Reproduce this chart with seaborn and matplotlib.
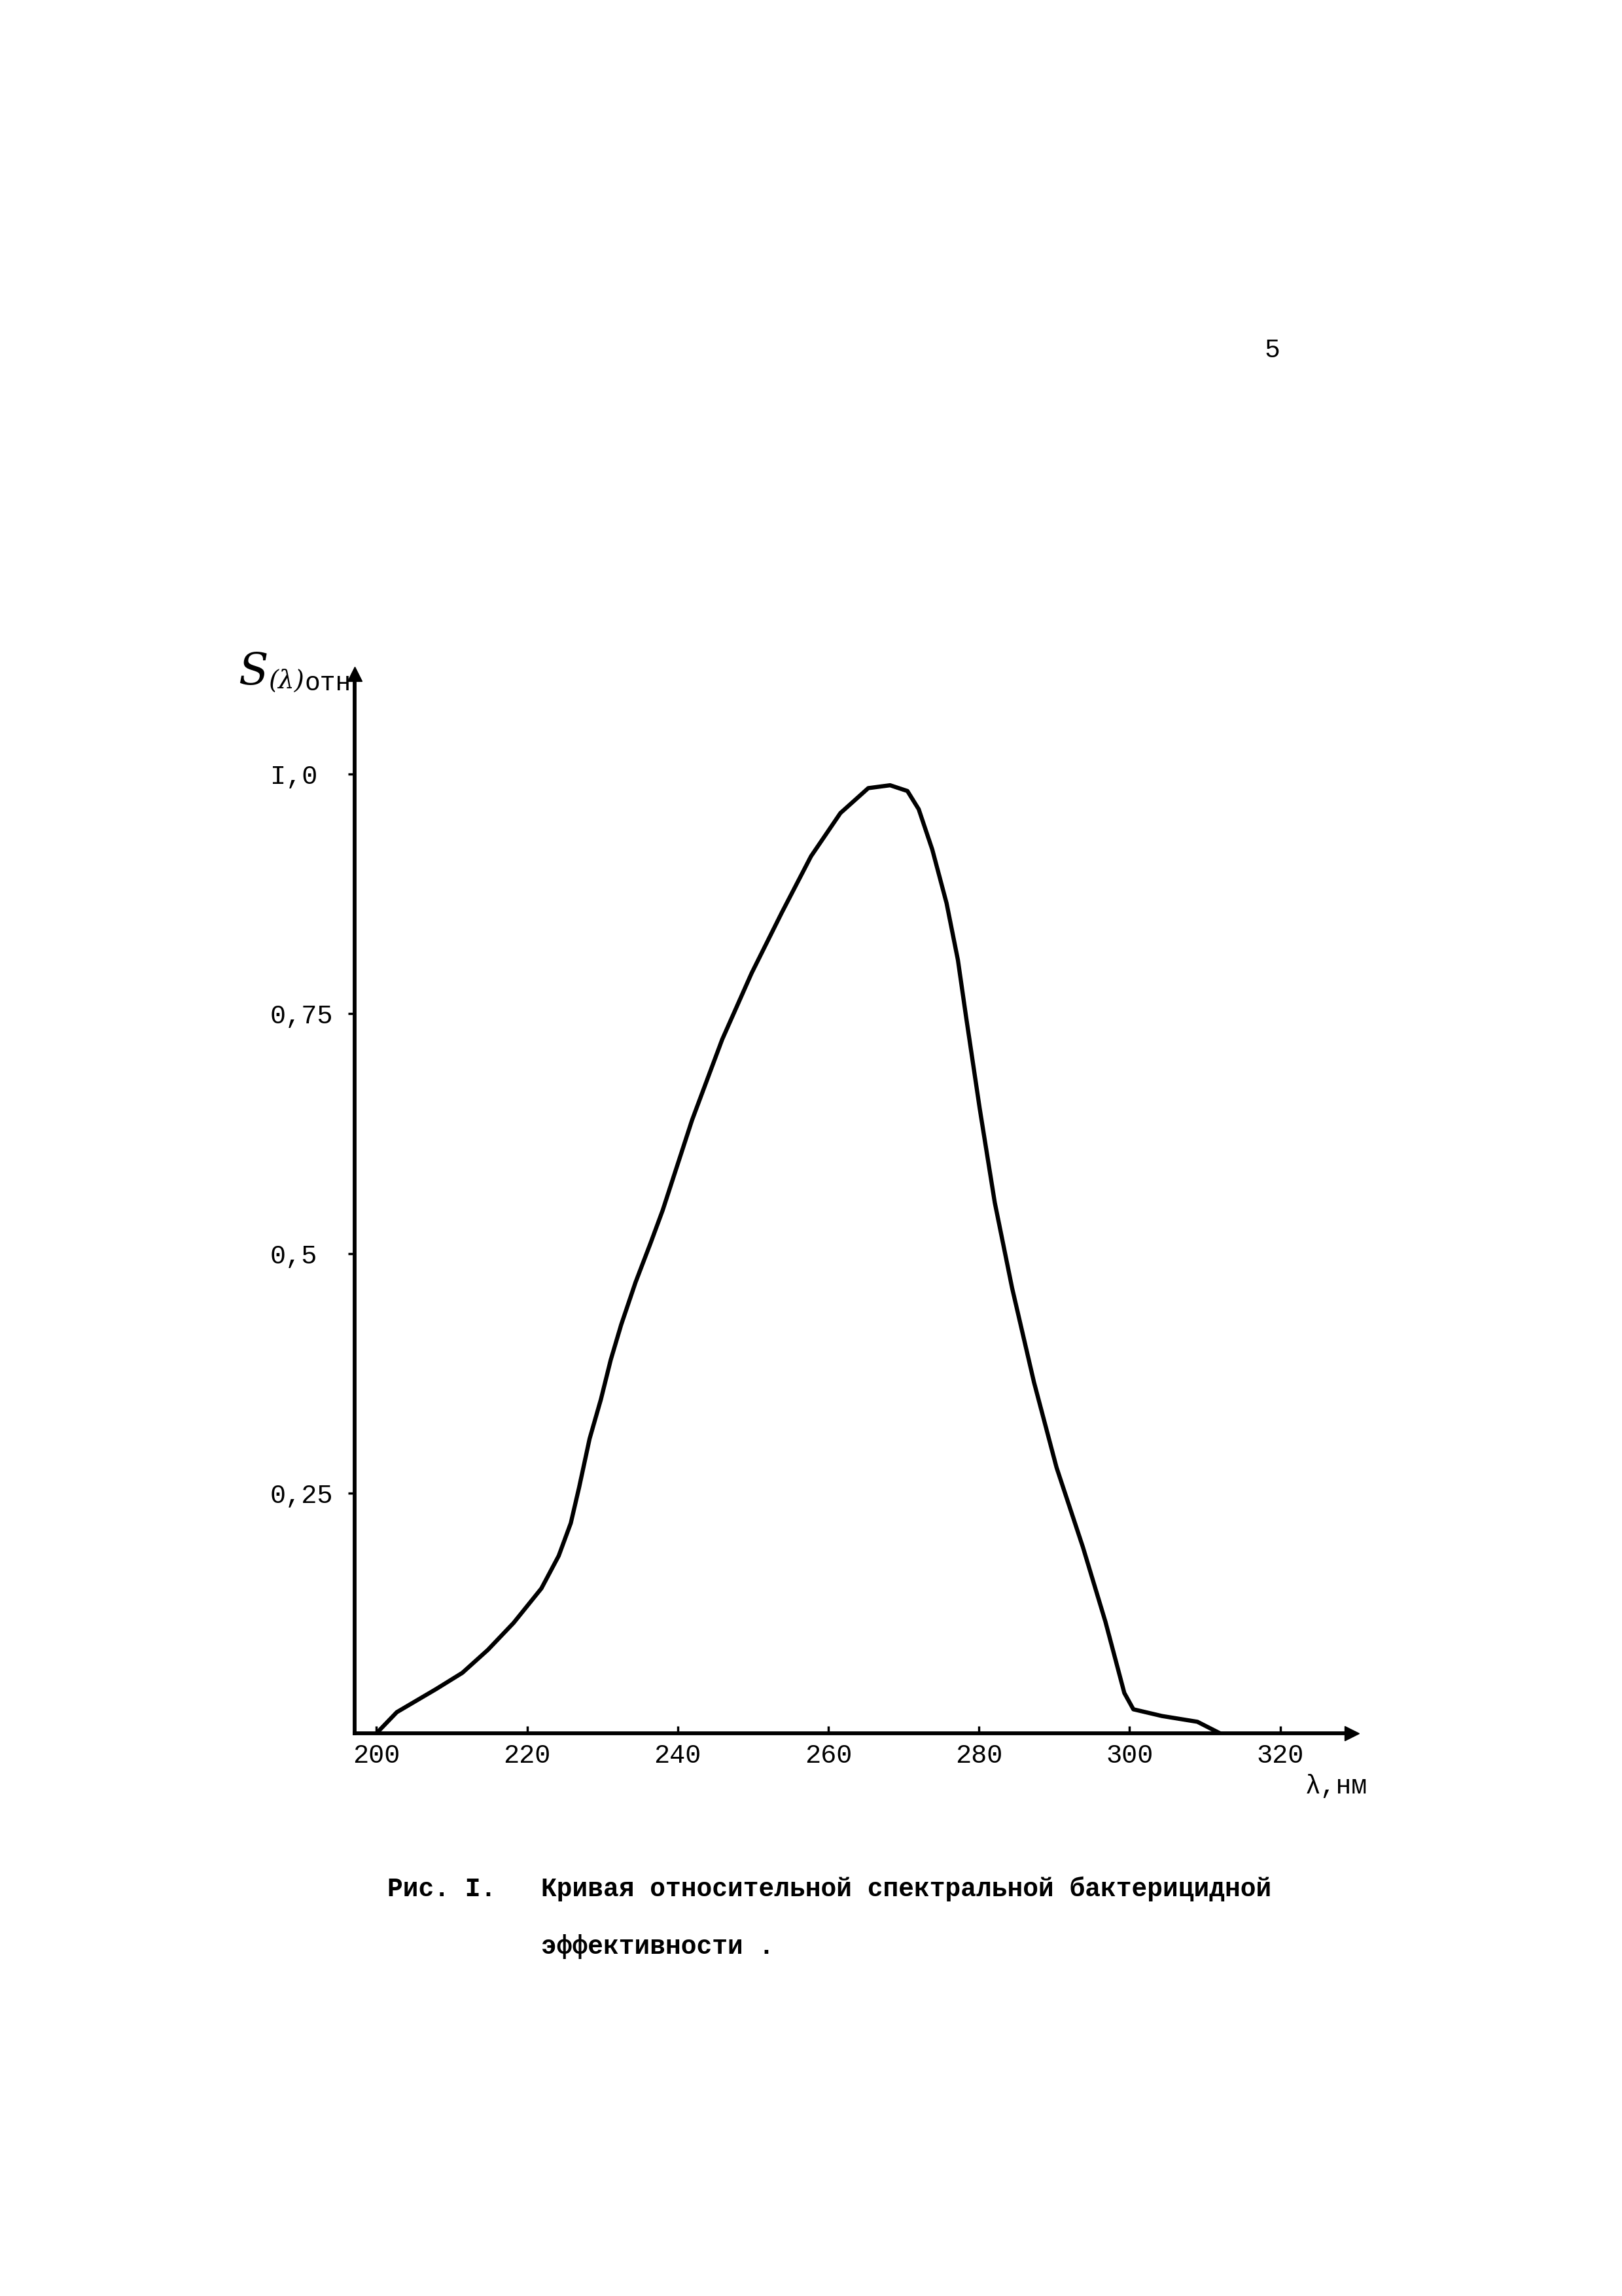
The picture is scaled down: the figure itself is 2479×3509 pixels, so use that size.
import matplotlib
matplotlib.use("Agg")
import matplotlib.pyplot as plt
import numpy as np
import pandas as pd
import seaborn as sns

# ---- data ----
wavelength_nm = [200.0, 202.7, 207.9, 211.4, 214.8, 218.2, 221.9, 224.2, 225.8, 226.9,
                 228.3, 229.8, 231.1, 232.5, 234.4, 236.4, 238.0, 241.9, 245.9, 249.8,
                 253.8, 257.7, 261.6, 265.3, 268.2, 270.5, 272.0, 273.8, 275.7, 277.2,
                 278.3, 280.1, 282.1, 284.4, 287.3, 290.3, 293.8, 296.8, 299.3, 300.5,
                 304.3, 309.0, 312.0]
rel_efficiency = [0.0, 0.022, 0.046, 0.063, 0.087, 0.115, 0.151, 0.185, 0.219, 0.256,
                  0.307, 0.348, 0.389, 0.426, 0.470, 0.511, 0.545, 0.639, 0.723, 0.792,
                  0.855, 0.914, 0.959, 0.985, 0.988, 0.982, 0.963, 0.921, 0.865, 0.806,
                  0.746, 0.651, 0.553, 0.464, 0.366, 0.277, 0.194, 0.116, 0.042, 0.025,
                  0.018, 0.012, 0.0]

x_ticks = [200, 220, 240, 260, 280, 300, 320]
x_tick_labels = ["200", "220", "240", "260", "280", "300", "320"]
y_ticks = [0.25, 0.5, 0.75, 1.0]
y_tick_labels = ["0,25", "0,5", "0,75", "I,0"]

caption_fig = "Рис. I."
caption_line1 = "Кривая относительной спектральной бактерицидной"
caption_line2 = "эффективности ."
page_number = "5"
y_label_s = "S"
y_label_lam = "(λ)"
y_label_sub = "отн"
x_label = "λ,нм"

df = pd.DataFrame({"wl": wavelength_nm, "s": rel_efficiency})

# ---- style ----
sns.set_theme(style="white")
MONO = ["Liberation Mono", "DejaVu Sans Mono"]
plt.rcParams["font.family"] = MONO

W, H = 2479, 3509
DPI = 100
fig = plt.figure(figsize=(W / DPI, H / DPI), dpi=DPI)
fig.patch.set_facecolor("white")

def px(x, y):
    return x / W, 1 - y / H

ax_left, ax_right, ax_top, ax_bottom = 542, 2066, 1030, 2649
ax = fig.add_axes([ax_left / W, 1 - ax_bottom / H,
                   (ax_right - ax_left) / W, (ax_bottom - ax_top) / H])
ax.set_facecolor("white")

sns.lineplot(data=df, x="wl", y="s", ax=ax, color="black", linewidth=4.6,
             sort=False, solid_joinstyle="round", solid_capstyle="round")

ax.set_xlim(197.1, 329.5)
ax.set_ylim(0, 1.104)

for s in ["top", "right"]:
    ax.spines[s].set_visible(False)
for s in ["left", "bottom"]:
    ax.spines[s].set_linewidth(4.2)
    ax.spines[s].set_color("black")

# arrow heads on the axes
ax.plot(0, 1, marker="^", color="black", markersize=16, transform=ax.transAxes,
        clip_on=False)
ax.plot(1, 0, marker=">", color="black", markersize=16, transform=ax.transAxes,
        clip_on=False)

ax.set_xticks(x_ticks)
ax.set_xticklabels(x_tick_labels)
ax.set_yticks(y_ticks)
ax.set_yticklabels(y_tick_labels)
ax.tick_params(axis="x", direction="in", length=8, width=2.5, pad=11,
               labelsize=29, colors="black", bottom=True)
ax.tick_params(axis="y", direction="out", length=7, width=2.5, pad=86,
               labelsize=29, colors="black", left=True)
for lab in ax.get_yticklabels():
    lab.set_horizontalalignment("left")
ax.set_xlabel("")
ax.set_ylabel("")
ax.grid(False)

# axis titles
fig.text(*px(364, 1046), y_label_s, fontsize=48, fontstyle="italic",
         family=["DejaVu Serif"], ha="left", va="baseline", color="black")
fig.text(*px(410, 1052), y_label_lam, fontsize=28, fontstyle="italic",
         family=["DejaVu Serif"], ha="left", va="baseline", color="black")
fig.text(*px(466, 1055), y_label_sub, fontsize=28.5, family=MONO,
         ha="left", va="baseline", color="black")
fig.text(*px(1995, 2730), x_label, fontsize=28.5, family=MONO,
         ha="left", va="center", color="black")

# page number
fig.text(*px(1944, 535), page_number, fontsize=28.5, family=MONO,
         ha="center", va="center", color="black")

# caption
fig.text(*px(592, 2887), caption_fig, fontsize=28.5, family=MONO,
         ha="left", va="center", color="black", fontweight="bold")
fig.text(*px(827, 2887), caption_line1, fontsize=28.5, family=MONO,
         ha="left", va="center", color="black", fontweight="bold")
fig.text(*px(827, 2975), caption_line2, fontsize=28.5, family=MONO,
         ha="left", va="center", color="black", fontweight="bold")

fig.savefig("out.png", dpi=DPI, facecolor="white")
